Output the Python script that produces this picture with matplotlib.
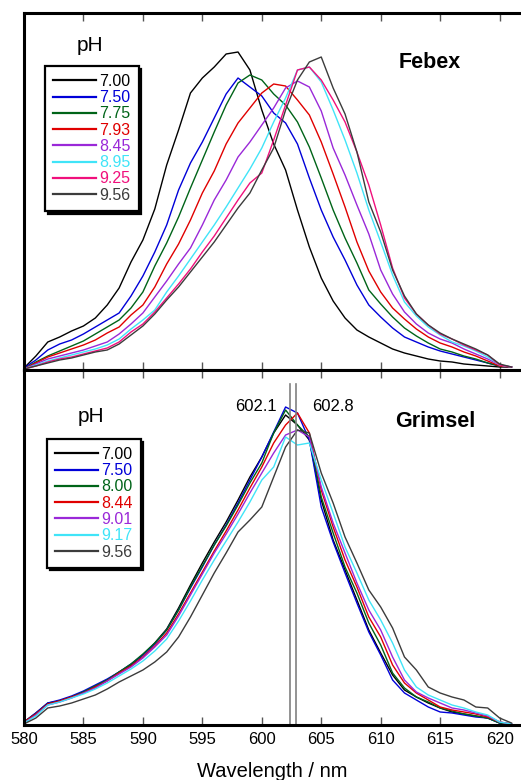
import matplotlib
matplotlib.use("Agg")
import matplotlib.pyplot as plt
import numpy as np

plt.rcParams['font.family'] = ['Liberation Sans', 'DejaVu Sans']

wl = np.arange(580, 622)

# top panel (Febex), intensities
febex_ph = ["7.00", "7.50", "7.75", "7.93", "8.45", "8.95", "9.25", "9.56"]
febex_700 = [2, 14, 28, 33, 39, 44, 52, 65, 82, 108, 130, 161, 205, 240, 277, 292, 303, 316, 318, 300, 260,
             226, 200, 160, 123, 92, 69, 52, 40, 33, 27, 21, 17, 14, 11, 9, 8, 6, 5, 4, 3, 3]
febex_750 = [2, 10, 20, 26, 30, 36, 43, 50, 57, 74, 94, 118, 145, 180, 207, 228, 252, 276, 292, 283, 274,
             257, 247, 226, 192, 160, 133, 110, 85, 65, 53, 42, 33, 28, 23, 19, 16, 13, 10, 7, 4, 3]
febex_775 = [1, 8, 14, 19, 24, 29, 36, 43, 50, 62, 78, 104, 127, 153, 182, 210, 238, 265, 287, 295, 290,
             276, 265, 248, 223, 192, 160, 132, 107, 80, 66, 53, 42, 34, 27, 21, 18, 14, 11, 7, 4, 3]
febex_793 = [1, 7, 13, 17, 21, 25, 30, 37, 43, 55, 65, 83, 106, 126, 150, 177, 199, 226, 247, 262, 277,
             286, 284, 270, 255, 228, 196, 163, 128, 99, 78, 62, 51, 41, 33, 27, 23, 18, 14, 9, 4, 3]
febex_845 = [1, 6, 11, 14, 17, 20, 24, 28, 36, 46, 57, 73, 89, 106, 122, 145, 170, 190, 213, 228, 245,
             262, 282, 289, 283, 259, 222, 195, 165, 136, 100, 76, 58, 46, 37, 31, 27, 21, 16, 11, 5, 3]
febex_895 = [1, 5, 9, 12, 15, 18, 21, 25, 31, 41, 50, 60, 78, 94, 111, 128, 145, 163, 182, 201, 222,
             248, 272, 300, 303, 288, 260, 230, 197, 160, 128, 95, 68, 54, 43, 35, 28, 24, 19, 13, 5, 3]
febex_925 = [1, 4, 8, 11, 13, 16, 19, 22, 28, 38, 46, 58, 72, 86, 101, 118, 134, 152, 170, 187, 197,
             230, 265, 300, 303, 290, 270, 248, 218, 185, 145, 102, 72, 56, 45, 36, 31, 25, 20, 15, 5, 3]
febex_956 = [1, 4, 7, 10, 12, 15, 18, 20, 26, 35, 44, 56, 70, 83, 98, 113, 128, 145, 162, 177, 200,
             222, 260, 290, 308, 313, 282, 256, 218, 168, 138, 100, 74, 56, 45, 37, 31, 26, 21, 15, 6, 3]

# bottom panel (Grimsel)
grimsel_ph = ["7.00", "7.50", "8.00", "8.44", "9.01", "9.17", "9.56"]
grimsel_700 = [3, 12, 22, 24, 28, 33, 38, 45, 53, 60, 70, 82, 96, 117, 140, 162, 183, 203, 225, 248, 268,
               292, 310, 300, 285, 225, 185, 155, 125, 95, 72, 50, 35, 28, 22, 17, 13, 11, 9, 7, 2, 1]
grimsel_750 = [3, 12, 22, 25, 29, 34, 40, 46, 53, 61, 70, 81, 95, 115, 137, 158, 180, 200, 222, 245, 268,
               293, 318, 312, 285, 218, 183, 152, 122, 93, 70, 45, 32, 25, 18, 13, 12, 10, 8, 7, 2, 1]
grimsel_800 = [3, 11, 21, 24, 28, 33, 39, 45, 53, 61, 71, 82, 95, 115, 138, 159, 180, 199, 220, 242, 262,
               292, 315, 300, 288, 228, 192, 158, 132, 102, 80, 52, 37, 28, 23, 17, 14, 11, 9, 7, 2, 1]
grimsel_844 = [3, 11, 21, 24, 28, 32, 38, 44, 52, 59, 68, 79, 92, 111, 132, 153, 174, 194, 215, 237, 258,
               282, 300, 312, 292, 235, 198, 165, 138, 108, 88, 60, 42, 32, 25, 18, 15, 13, 11, 8, 3, 1]
grimsel_901 = [2, 10, 20, 23, 27, 32, 37, 44, 51, 58, 67, 78, 90, 109, 130, 151, 172, 191, 211, 232, 252,
               272, 290, 295, 288, 238, 202, 172, 142, 115, 95, 68, 45, 33, 27, 22, 17, 15, 12, 9, 3, 1]
grimsel_917 = [2, 9, 20, 23, 27, 31, 36, 42, 49, 56, 64, 74, 86, 104, 124, 145, 165, 184, 203, 223, 245,
               258, 288, 280, 282, 245, 212, 178, 152, 125, 105, 82, 55, 38, 30, 25, 20, 17, 13, 10, 3, 1]
grimsel_956 = [1, 7, 17, 19, 22, 26, 30, 36, 43, 49, 55, 63, 73, 88, 108, 130, 152, 172, 193, 205, 218,
               248, 278, 295, 292, 252, 222, 188, 162, 135, 118, 97, 68, 55, 38, 32, 28, 25, 18, 17, 7, 2]

peak_pos = [602.35, 602.85]
peak_labels = ["602.1", "602.8"]

colors_top = ['#000000', '#0000d8', '#006418', '#e00000', '#9a28d8', '#40e4f8', '#f0107c', '#3c3c3c']
colors_bot = ['#000000', '#0000d8', '#006418', '#e00000', '#9a28d8', '#40e4f8', '#3c3c3c']

fig = plt.figure(figsize=(5.21, 7.80), dpi=100)
ax1 = fig.add_axes([24 / 521, 1 - 370 / 780, 1 - 24 / 521, 357 / 780])
ax2 = fig.add_axes([24 / 521, 1 - 725 / 780, 1 - 24 / 521, 355 / 780])

top_series = [febex_700, febex_750, febex_775, febex_793, febex_845, febex_895, febex_925, febex_956]
for vals, ph, c in zip(top_series, febex_ph, colors_top):
    ax1.plot(wl, vals, color=c, lw=1.0, label=ph)

bot_series = [grimsel_700, grimsel_750, grimsel_800, grimsel_844, grimsel_901, grimsel_917, grimsel_956]
for vals, ph, c in zip(bot_series, grimsel_ph, colors_bot):
    ax2.plot(wl, vals, color=c, lw=1.0, label=ph)

for p in peak_pos:
    ax2.axvline(p, ymin=0, ymax=0.96, color='#808080', lw=1.2)
ax2.text(0.509, 0.897, peak_labels[0], transform=ax2.transAxes, ha='right', va='center', fontsize=12)
ax2.text(0.579, 0.897, peak_labels[1], transform=ax2.transAxes, ha='left', va='center', fontsize=12)

ax1.set_ylim(0, 357)
ax2.set_ylim(0, 355)

for ax in (ax1, ax2):
    ax.set_xlim(580, 621.8)
    ax.set_xticks(np.arange(580, 621, 5))
    ax.set_yticks([])
    ax.tick_params(axis='x', direction='in', top=True, bottom=True, length=6, width=1,
                   color='#555555', labelsize=12, pad=5)
    for s in ax.spines.values():
        s.set_linewidth(2.2)
    ax.spines['right'].set_visible(False)

ax1.tick_params(axis='x', labelbottom=False)
ax2.set_xlabel("Wavelength / nm", fontsize=14.5)
ax2.xaxis.set_label_coords(0.5, -0.104)

ax1.text(0.817, 0.86, "Febex", transform=ax1.transAxes, ha='center', va='center',
         fontsize=15.5, fontweight='bold')
ax2.text(0.827, 0.854, "Grimsel", transform=ax2.transAxes, ha='center', va='center',
         fontsize=15.5, fontweight='bold')
ax1.text(0.133, 0.91, "pH", transform=ax1.transAxes, ha='center', va='center', fontsize=15)
ax2.text(0.135, 0.868, "pH", transform=ax2.transAxes, ha='center', va='center', fontsize=15)

for ax, anchor in ((ax1, (0.042, 0.852)), (ax2, (0.046, 0.806))):
    leg = ax.legend(loc='upper left', bbox_to_anchor=anchor, borderaxespad=0, fontsize=11.5,
                    labelcolor='linecolor', handlelength=2.7, handletextpad=0.2, labelspacing=0.08,
                    borderpad=0.5, fancybox=False, framealpha=1,
                    shadow={'color': 'black', 'alpha': 1})
    leg.get_frame().set_edgecolor('black')
    leg.get_frame().set_linewidth(1.6)
    for line in leg.get_lines():
        line.set_linewidth(1.6)

fig.savefig("out.png", dpi=100)
